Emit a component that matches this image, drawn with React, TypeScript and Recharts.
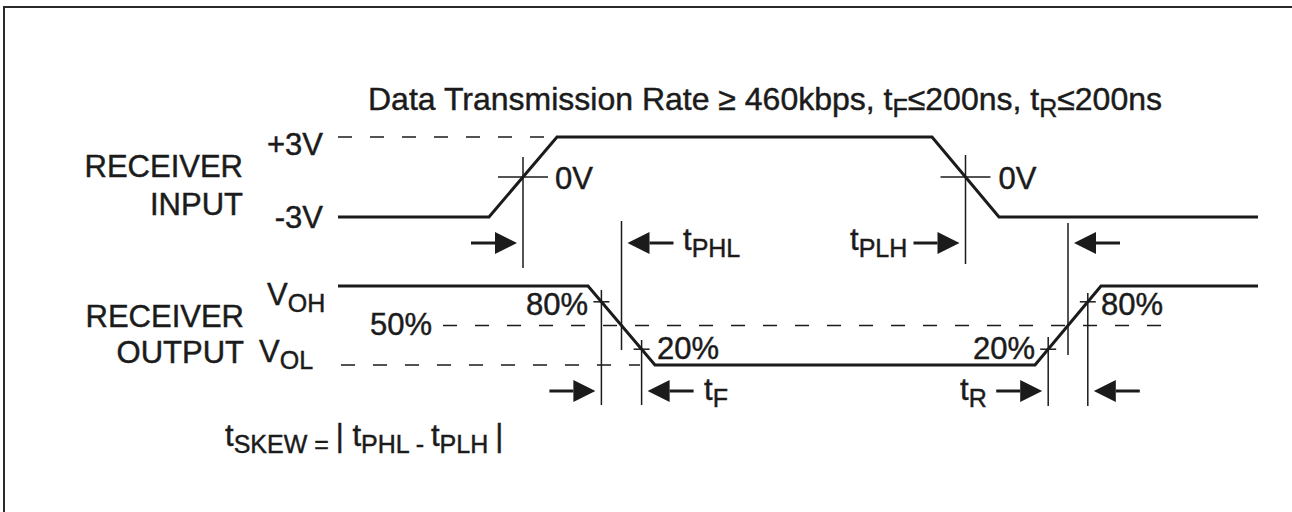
import React from 'react';
import { ComposedChart, Line, XAxis, YAxis, ReferenceLine, ReferenceDot } from 'recharts';

// receiver input waveform: time (ns scale units) vs volts
const inputTimes = [0, 151, 219, 594, 661, 920];
const inputVolts = [-3, -3, 3, 3, -3, -3];

// receiver output waveform: same time base, % of swing (VOL = 0, VOH = 100)
const outputTimes = [0, 250, 317, 697, 763, 920];
const outputLevels = [100, 100, 0, 0, 100, 100];

// measurement thresholds
const inputThreshold = 0;
const outputThresholds = [80, 50, 20];

const INK = '#1b1b1b';
const FONT = "'Liberation Sans', Arial, Helvetica, sans-serif";

const inputData = inputTimes.map((t, i) => ({ t, v: inputVolts[i] }));
const outputData = outputTimes.map((t, i) => ({ t, v: outputLevels[i] }));

// time where segment i of a waveform passes a level
const cross = (ts: number[], vs: number[], i: number, level: number) =>
  ts[i] + ((level - vs[i]) / (vs[i + 1] - vs[i])) * (ts[i + 1] - ts[i]);

const inRise = cross(inputTimes, inputVolts, 1, inputThreshold);
const inFall = cross(inputTimes, inputVolts, 3, inputThreshold);
const [p80, p50, p20] = outputThresholds;
const outFall80 = cross(outputTimes, outputLevels, 1, p80);
const outFall50 = cross(outputTimes, outputLevels, 1, p50);
const outFall20 = cross(outputTimes, outputLevels, 1, p20);
const outRise20 = cross(outputTimes, outputLevels, 3, p20);
const outRise50 = cross(outputTimes, outputLevels, 3, p50);
const outRise80 = cross(outputTimes, outputLevels, 3, p80);

type Part = string | { sub: string };

const Txt = ({ cx, cy, parts, anchor = 'start', size = 31, subSize = 25 }: any) => {
  let down = false;
  return (
    <text
      x={cx}
      y={cy}
      textAnchor={anchor}
      fontSize={size}
      fill={INK}
      stroke={INK}
      strokeWidth={0.45}
      fontFamily={FONT}
    >
      {parts.map((p: Part, i: number) => {
        if (typeof p === 'string') {
          const dy = down ? -7 : 0;
          down = false;
          return (
            <tspan key={i} dy={dy} fontSize={size}>
              {p}
            </tspan>
          );
        }
        const dy = down ? 0 : 7;
        down = true;
        return (
          <tspan key={i} dy={dy} fontSize={subSize}>
            {p.sub}
          </tspan>
        );
      })}
    </text>
  );
};

const ArrowShape = (p: any) => {
  const { x1, y1, x2, y2 } = p;
  const dir = Math.sign(x2 - x1);
  const bx = x2 - dir * 22;
  return (
    <g>
      <line x1={x1} y1={y1} x2={bx} y2={y2} stroke={INK} strokeWidth={3} />
      <polygon points={`${x2},${y2} ${bx},${y2 - 11} ${bx},${y2 + 11}`} fill={INK} />
    </g>
  );
};

const label = (x: number, y: number, parts: Part[], anchor = 'start', size = 31) => (
  <ReferenceDot
    key={`${x}-${y}-${String(parts[0])}`}
    xAxisId="t"
    yAxisId="lay"
    x={x}
    y={y}
    r={0}
    shape={(p: any) => <Txt cx={p.cx} cy={p.cy} parts={parts} anchor={anchor} size={size} />}
  />
);

const vline = (t: number, y1: number, y2: number) => (
  <ReferenceLine
    key={`v-${t}-${y1}`}
    xAxisId="t"
    yAxisId="lay"
    segment={[{ x: t, y: y1 }, { x: t, y: y2 }]}
    stroke={INK}
    strokeWidth={1.5}
  />
);

const tick = (t: number, level: number, axis: string, half: number) => (
  <ReferenceLine
    key={`k-${t}-${level}`}
    xAxisId="t"
    yAxisId={axis}
    segment={[{ x: t - half, y: level }, { x: t + half, y: level }]}
    stroke={INK}
    strokeWidth={1.5}
  />
);

const dashed = (t1: number, t2: number, level: number, axis: string) => (
  <ReferenceLine
    key={`d-${level}-${axis}`}
    xAxisId="t"
    yAxisId={axis}
    segment={[{ x: t1, y: level }, { x: t2, y: level }]}
    stroke={INK}
    strokeWidth={1.5}
    strokeDasharray="14 18"
  />
);

const arrow = (t: number, dir: 'left' | 'right', row: number) => {
  const tip = dir === 'right' ? t - 6 : t + 6;
  const tail = dir === 'right' ? tip - 46 : tip + 46;
  return (
    <ReferenceLine
      key={`a-${t}-${row}`}
      xAxisId="t"
      yAxisId="lay"
      segment={[{ x: tail, y: row }, { x: tip, y: row }]}
      shape={ArrowShape}
    />
  );
};

export default function App() {
  return (
    <div
      style={{
        position: 'fixed',
        left: 0,
        top: 0,
        width: 1292,
        height: 512,
        background: '#fff',
        overflow: 'hidden',
      }}
    >
      {/* frame: only the top and left edges fall inside the picture */}
      <svg width={1292} height={512} style={{ position: 'absolute', left: 0, top: 0 }}>
        <path d="M4,512 L4,7 L1292,7" fill="none" stroke="#2a2a2a" strokeWidth={2} />
      </svg>
      <div style={{ position: 'absolute', left: 0, top: 0 }}>
        <ComposedChart width={1292} height={512} margin={{ top: 0, right: 0, bottom: 0, left: 0 }}>
          <XAxis xAxisId="t" dataKey="t" type="number" domain={[-338, 954]} allowDataOverflow hide />
          <YAxis yAxisId="in" type="number" domain={[-25.125, 13.275]} allowDataOverflow hide />
          <YAxis yAxisId="out" type="number" domain={[-186.076, 462.025]} allowDataOverflow hide />
          <YAxis yAxisId="lay" type="number" domain={[0, 512]} reversed allowDataOverflow hide />

          {dashed(0, 216, 3, 'in')}
          {dashed(105, 829, p50, 'out')}
          {dashed(3, 302, 0, 'out')}

          {vline(inRise, 157, 268)}
          {vline(inFall, 155, 264)}
          {vline(outFall50, 221, 350)}
          {vline(outRise50, 223, 355)}
          {vline(outFall80, 290, 405)}
          {vline(outFall20, 340, 405)}
          {vline(outRise20, 337, 406)}
          {vline(outRise80, 293, 406)}

          {tick(inRise, inputThreshold, 'in', 25)}
          {tick(inFall, inputThreshold, 'in', 25)}
          {tick(outFall80, p80, 'out', 8)}
          {tick(outFall20, p20, 'out', 8)}
          {tick(outRise20, p20, 'out', 8)}
          {tick(outRise80, p80, 'out', 8)}

          <Line
            data={inputData}
            dataKey="v"
            xAxisId="t"
            yAxisId="in"
            type="linear"
            stroke={INK}
            strokeWidth={3}
            dot={false}
            activeDot={false}
            isAnimationActive={false}
          />
          <Line
            data={outputData}
            dataKey="v"
            xAxisId="t"
            yAxisId="out"
            type="linear"
            stroke={INK}
            strokeWidth={3}
            dot={false}
            activeDot={false}
            isAnimationActive={false}
          />

          {arrow(inRise, 'right', 243)}
          {arrow(outFall50, 'left', 243)}
          {arrow(inFall, 'right', 243)}
          {arrow(outRise50, 'left', 243)}
          {arrow(outFall80, 'right', 391)}
          {arrow(outFall20, 'left', 391)}
          {arrow(outRise20, 'right', 391)}
          {arrow(outRise80, 'left', 391)}

          {label(30, 110, ['Data Transmission Rate \u2265 460kbps, t', { sub: 'F' }, '\u2264200ns, t', { sub: 'R' }, '\u2264200ns'], 'start', 32)}
          {label(-15, 155, ['+3V'], 'end')}
          {label(-15, 228, ['-3V'], 'end')}
          {label(-95, 177, ['RECEIVER'], 'end')}
          {label(-95, 215, ['INPUT'], 'end')}
          {label(inRise + 32, 189, ['0V'])}
          {label(inFall + 33, 189, ['0V'])}
          {label(345, 250, ['t', { sub: 'PHL' }])}
          {label(512, 250, ['t', { sub: 'PLH' }])}
          {label(-71, 305, ['V', { sub: 'OH' }])}
          {label(-79, 362, ['V', { sub: 'OL' }])}
          {label(-94, 327, ['RECEIVER'], 'end')}
          {label(-94, 363, ['OUTPUT'], 'end')}
          {label(32, 335, ['50%'])}
          {label(250, 315, ['80%'], 'end')}
          {label(319, 359, ['20%'])}
          {label(697, 359, ['20%'], 'end')}
          {label(763, 315, ['80%'])}
          {label(366, 400, ['t', { sub: 'F' }])}
          {label(622, 400, ['t', { sub: 'R' }])}
          {label(-113, 446, ['t', { sub: 'SKEW = ' }, '| t', { sub: 'PHL - ' }, 't', { sub: 'PLH ' }, '|'])}
        </ComposedChart>
      </div>
    </div>
  );
}
